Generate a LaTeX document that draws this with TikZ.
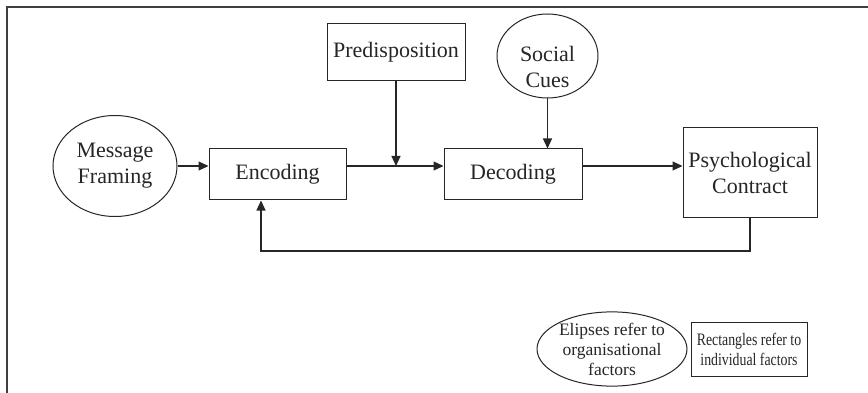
\documentclass[tikz,border=0pt]{standalone}
\usepackage{fontspec}
\setmainfont{Liberation Serif}
\usetikzlibrary{shapes.geometric,arrows.meta}
\begin{document}
\begin{tikzpicture}[x=1pt,y=-1pt,
  every node/.style={text=black!85},
  box/.style={draw=black!85,line width=1pt,rectangle,inner sep=0pt,align=center,
    font=\fontsize{22}{26}\selectfont},
  oval/.style={draw=black!85,line width=1pt,ellipse,inner sep=0pt,align=center,
    font=\fontsize{22}{26}\selectfont},
  lbl/.style={inner sep=0pt,align=center,font=\fontsize{22}{26}\selectfont},
  keytext/.style={font=\fontsize{17.5}{20}\selectfont},
  flow/.style={draw=black!85,line width=1.2pt,-{Triangle[length=10pt,width=9pt]}},
  frame/.style={draw=black!75,line width=2pt}]
\useasboundingbox (0,0) rectangle (868,393);
\fill[white] (0,0) rectangle (868,393);

% page frame
\draw[frame] (7,393) -- (7,7) -- (868,7);

% factors
\node[oval,minimum width=124pt,minimum height=101pt] (mf) at (115,166) {Message\\Framing};
\node[box,minimum width=137pt,minimum height=51pt] (enc) at (277.5,174.5) {Encoding};
\node[box,minimum width=138pt,minimum height=57pt] (pre) at (396,52.5) {Predisposition};
\node[oval,minimum width=101pt,minimum height=84pt] (sc) at (547.5,56) {};
\node[lbl] (sclbl) at (547.5,67) {Social\\Cues};
\node[box,minimum width=138pt,minimum height=51pt] (dec) at (513,174.5) {Decoding};
\node[box,minimum width=134pt,minimum height=89pt] (pc) at (750,172.5) {Psychological\\Contract};

% main flow
\draw[flow] (mf.east) -- (mf.east -| enc.west);
\draw[flow] (enc.east |- mf.east) -- (dec.west |- mf.east);
\draw[flow] (pre.south) -- (pre.south |- mf.east);
\draw[flow] (sc.south) -- (sc.south |- dec.north);
\draw[flow] (dec.east |- mf.east) -- (pc.west |- mf.east);

% feedback loop
\coordinate (fb) at (261,251);
\draw[flow] (pc.south) |- (fb) -- (fb |- enc.south);

% key
\node[oval,keytext,minimum width=150pt,minimum height=72pt] (k1) at (612,349) {Elipses refer to\\organisational\\factors};
\node[box,keytext,minimum width=116pt,minimum height=54pt] (k2) at (749,349.5)
  {\scalebox{0.79}[1]{Rectangles refer to}\\\scalebox{0.79}[1]{individual factors}};
\end{tikzpicture}
\end{document}
